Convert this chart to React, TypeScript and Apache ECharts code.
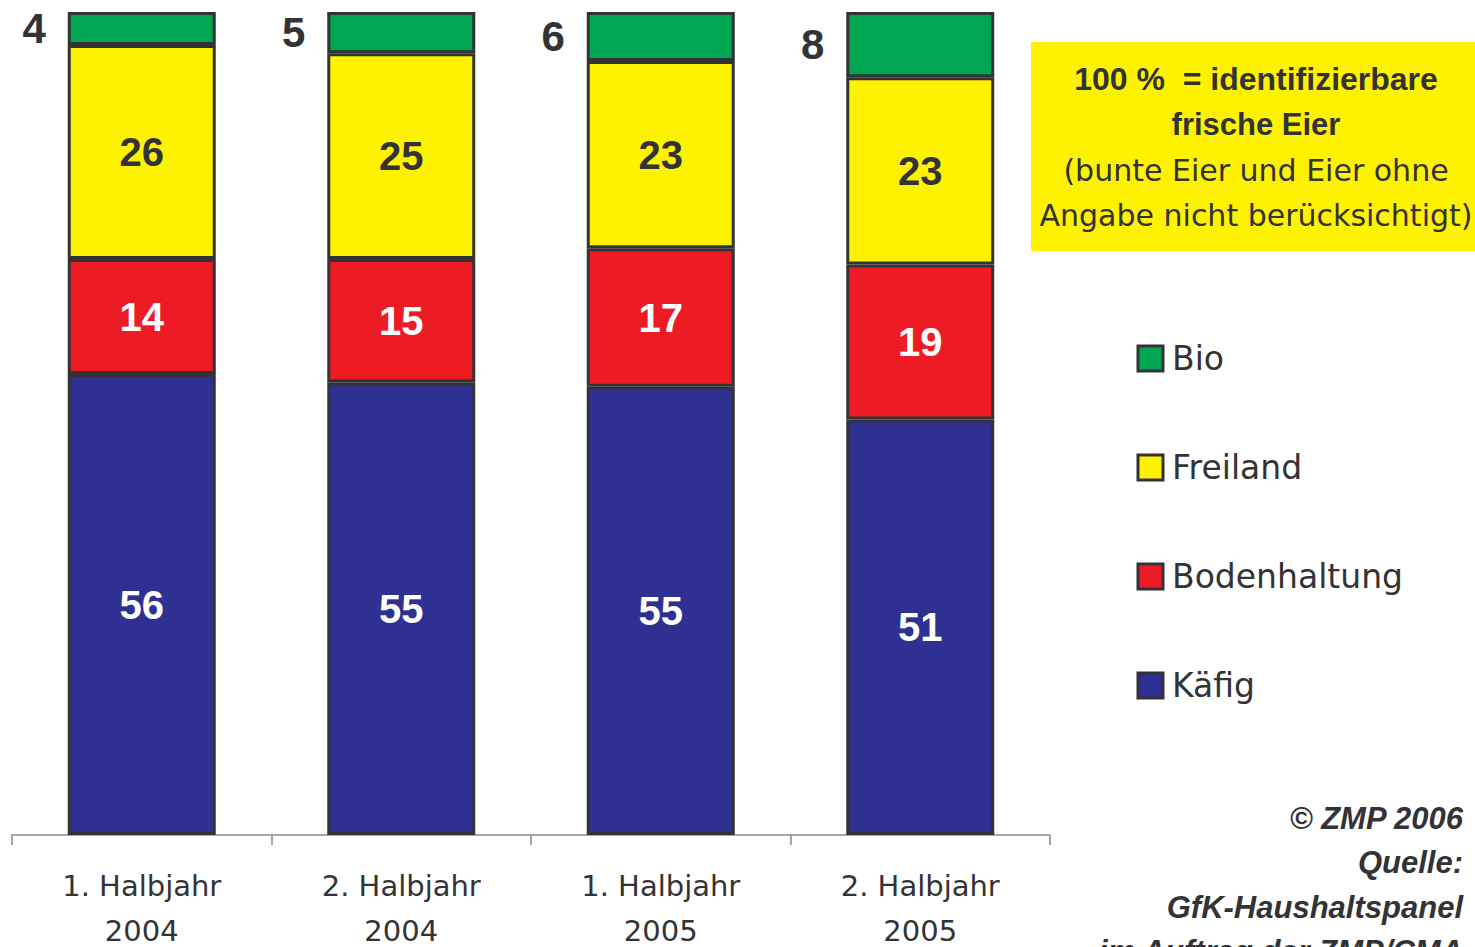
import React, { useEffect, useRef } from "react";
import * as echarts from "echarts";

const categories = ["1. Halbjahr\n2004", "2. Halbjahr\n2004", "1. Halbjahr\n2005", "2. Halbjahr\n2005"];
const kaefig = [56, 55, 55, 51];
const boden = [14, 15, 17, 19];
const freiland = [26, 25, 23, 23];
const bio = [4, 5, 6, 8];
const seriesNames = ["Käfig", "Bodenhaltung", "Freiland", "Bio"];
const legendOrder = ["Bio", "Freiland", "Bodenhaltung", "Käfig"];
const noteLines = ["100 %  = identifizierbare", "frische Eier", "(bunte Eier und Eier ohne", "Angabe nicht berücksichtigt)"];
const sourceLines = ["© ZMP 2006", "Quelle:", "GfK-Haushaltspanel", "im Auftrag der ZMP/CMA"];

const FONT = "'Liberation Sans', Arial, Helvetica, sans-serif";
const WIDE = "'DejaVu Sans', 'Liberation Sans', Arial, sans-serif";
const DARK = "#333336";

export default function App() {
  const ref = useRef<HTMLDivElement>(null);
  useEffect(() => {
    if (!ref.current) return;
    const chart = echarts.init(ref.current, null, { renderer: "svg" });
    const all = [kaefig, boden, freiland, bio];
    const totals = categories.map((_, i) => all.reduce((s, a) => s + a[i], 0));
    const colors = ["#2e3192", "#ed1c24", "#fff200", "#00a651"];
    const labelColors = ["#ffffff", "#ffffff", DARK, DARK];

    const series = all.map((arr, si) => ({
      name: seriesNames[si],
      type: "bar",
      stack: "total",
      barWidth: 148,
      data: arr.map((v, i) => (v / totals[i]) * 100),
      itemStyle: { color: colors[si], borderColor: DARK, borderWidth: 3 },
      label: {
        show: true,
        position: si === 3 ? "left" : "inside",
        distance: 22,
        formatter: (p: any) => String(arr[p.dataIndex]),
        color: labelColors[si],
        fontFamily: FONT,
        fontWeight: "bold",
        fontSize: si === 3 ? 42 : 40,
      },
    }));

    const graphic: any[] = [
      { type: "rect", shape: { x: 1031, y: 42, width: 444, height: 209 }, style: { fill: "#fff200" } },
    ];
    noteLines.forEach((t, i) => {
      graphic.push({
        type: "text",
        x: 1256,
        y: 79 + i * 45.5,
        style: {
          text: t,
          textAlign: "center",
          textVerticalAlign: "middle",
          fill: DARK,
          font: i === 0 ? `bold 32px ${FONT}` : i === 1 ? `bold 31px ${FONT}` : `30px ${WIDE}`,
        },
      });
    });
    sourceLines.forEach((t, i) => {
      graphic.push({
        type: "text",
        x: 1463,
        y: 818 + i * 44.5,
        style: {
          text: t,
          textAlign: "right",
          textVerticalAlign: "middle",
          fill: DARK,
          font: `italic bold 31px ${FONT}`,
        },
      });
    });

    chart.setOption({
      animation: false,
      grid: { left: 12, right: 425, top: 12, bottom: 112, containLabel: false, outerBoundsMode: "none" },
      xAxis: {
        type: "category",
        data: categories,
        axisLine: { lineStyle: { color: "#8a8a8a", width: 1.5 } },
        axisTick: { show: true, length: 10, lineStyle: { color: "#8a8a8a", width: 1.5 } },
        axisLabel: { color: DARK, fontFamily: WIDE, fontSize: 29, lineHeight: 45, margin: 28 },
      },
      yAxis: { type: "value", min: 0, max: 100, show: false, splitLine: { show: false } },
      legend: {
        data: legendOrder,
        orient: "vertical",
        left: 1136.5,
        top: 342,
        padding: 0,
        itemWidth: 25,
        itemHeight: 25,
        itemGap: 76,
        icon: "rect",
        itemStyle: { borderColor: DARK, borderWidth: 3 },
        textStyle: { color: DARK, fontFamily: WIDE, fontSize: 33, padding: [0, 0, 0, 4] },
      },
      series,
      graphic,
    });
    return () => chart.dispose();
  }, []);
  return (
    <div
      ref={ref}
      style={{ position: "fixed", left: 0, top: 0, width: 1475, height: 947, background: "#ffffff" }}
    />
  );
}
